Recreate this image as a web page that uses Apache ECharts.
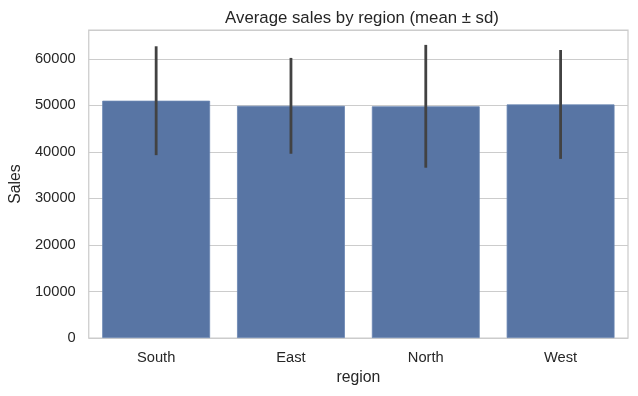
<!DOCTYPE html>
<html>
<head>
<meta charset="utf-8">
<script src="https://cdn.jsdelivr.net/npm/echarts@6/dist/echarts.min.js"></script>
<style>html,body{margin:0;padding:0;background:#fff;}#c{width:638px;height:396px;}</style>
</head>
<body>
<div id="c"></div>
<script>
const categories = ['South', 'East', 'North', 'West'];
const meanSales = [51000, 49900, 49800, 50200];
const sdSales = [11700, 10300, 13200, 11700];
const yTicks = [0, 10000, 20000, 30000, 40000, 50000, 60000];

const FONT = '"Liberation Sans", Arial, sans-serif';
const errData = categories.map((c, i) => [i, meanSales[i] - sdSales[i], meanSales[i] + sdSales[i]]);

const chart = echarts.init(document.getElementById('c'), null, {renderer: 'canvas'});
chart.setOption({
  animation: false,
  backgroundColor: '#ffffff',
  title: {
    text: 'Average sales by region (mean ± sd)',
    left: 357, top: 5, textAlign: 'center',
    textStyle: {fontFamily: FONT, fontSize: 16.8, fontWeight: 'normal', color: '#262626'}
  },
  grid: {left: 86, right: 10, top: 30, bottom: 58, show: true, borderColor: '#cccccc', borderWidth: 1.25, backgroundColor: 'transparent'},
  xAxis: {
    type: 'category', data: categories,
    name: 'region', nameLocation: 'middle', nameGap: 32,
    nameTextStyle: {fontFamily: FONT, fontSize: 15.8, color: '#262626'},
    axisLine: {show: false}, axisTick: {show: false},
    axisLabel: {fontFamily: FONT, fontSize: 14.7, color: '#262626', margin: 12},
    splitLine: {show: false}
  },
  yAxis: {
    type: 'value', min: 0, max: 66200, interval: 10000,
    name: 'Sales', nameLocation: 'middle', nameGap: 60,
    nameTextStyle: {fontFamily: FONT, fontSize: 15.8, color: '#262626'},
    axisLine: {show: false}, axisTick: {show: false},
    axisLabel: {fontFamily: FONT, fontSize: 14.7, color: '#262626', margin: 13, showMaxLabel: false,
      formatter: v => (yTicks.indexOf(v) >= 0 ? String(v) : '')},
    splitLine: {show: true, lineStyle: {color: '#cccccc', width: 1.1}}
  },
  series: [
    {
      type: 'bar', data: meanSales, barWidth: '80%',
      itemStyle: {color: '#5875a4', borderColor: '#6a86b3', borderWidth: 0.8},
      z: 2
    },
    {
      type: 'custom', data: errData, z: 5,
      renderItem: function (params, api) {
        const x = api.value(0);
        const lo = api.coord([x, api.value(1)]);
        const hi = api.coord([x, api.value(2)]);
        return {
          type: 'line',
          shape: {x1: lo[0], y1: lo[1], x2: hi[0], y2: hi[1]},
          style: {stroke: '#424242', lineWidth: 2.8, lineCap: 'butt'}
        };
      }
    }
  ]
});
</script>
</body>
</html>
